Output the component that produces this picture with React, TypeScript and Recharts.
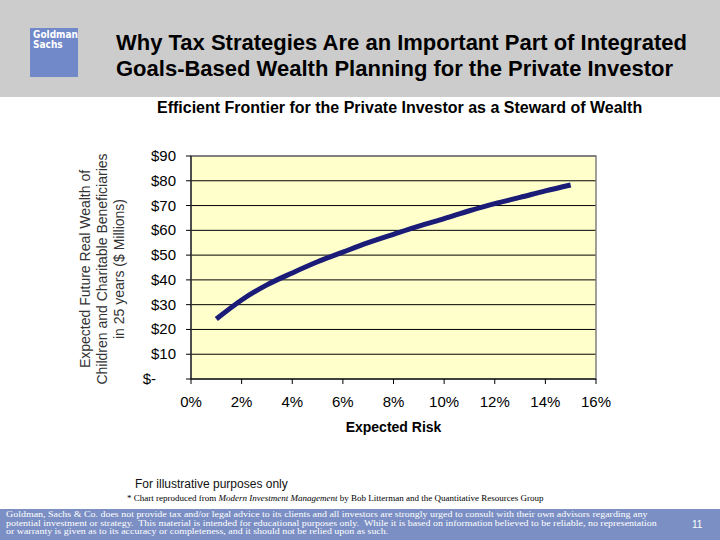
import {
  CartesianGrid,
  Line,
  LineChart,
  ReferenceArea,
  XAxis,
  YAxis,
} from "recharts";

const risk = [1, 2, 3, 4, 5, 6, 7, 8, 9, 10, 11, 12, 13, 14, 15];
const wealth = [24.2, 31.9, 38.0, 42.8, 47.3, 51.2, 55.0, 58.4, 61.7, 64.7, 67.9, 70.8, 73.3, 75.9, 78.3];
const xTicks = [0, 2, 4, 6, 8, 10, 12, 14, 16];
const yTicks = [0, 10, 20, 30, 40, 50, 60, 70, 80, 90];

const data = risk.map((r, i) => ({ risk: r, wealth: wealth[i] }));

const font = "'Liberation Sans', Arial, sans-serif";

// accounting style label: "$-" for zero sits further left, like Excel does it
function YTick(props: any) {
  const { x, y, payload } = props;
  const v = payload.value as number;
  const shift = v === 0 ? 20 : 0;
  return (
    <text
      x={x - 8 - shift}
      y={y}
      dy={5}
      textAnchor="end"
      fill="#000"
      fontSize={15}
      fontFamily={font}
    >
      {v === 0 ? "$-" : `$${v}`}
    </text>
  );
}

export default function App() {
  return (
    <div
      style={{
        position: "absolute",
        left: 0,
        top: 0,
        width: 720,
        height: 540,
        background: "#fff",
        fontFamily: font,
        overflow: "hidden",
      }}
    >
      {/* header */}
      <div style={{ position: "absolute", left: 0, top: 0, width: 720, height: 97, background: "#cccccc" }} />
      <div
        style={{
          position: "absolute",
          left: 30,
          top: 28,
          width: 48,
          height: 49,
          background: "#7189c9",
          color: "#fff",
          fontFamily: "'DejaVu Sans Condensed', 'Liberation Sans Narrow', sans-serif",
          fontWeight: "bold",
          fontSize: 10,
          lineHeight: "10px",
          padding: "2px 0 0 3px",
          boxSizing: "border-box",
        }}
      >
        Goldman
        <br />
        Sachs
      </div>
      <div
        style={{
          position: "absolute",
          left: 116,
          top: 30,
          fontSize: 22,
          fontWeight: "bold",
          lineHeight: "26px",
          color: "#000",
          whiteSpace: "nowrap",
        }}
      >
        Why Tax Strategies Are an Important Part of Integrated
        <br />
        Goals-Based Wealth Planning for the Private Investor
      </div>
      <div
        style={{
          position: "absolute",
          left: 157,
          top: 99,
          fontSize: 16,
          fontWeight: "bold",
          whiteSpace: "nowrap",
        }}
      >
        Efficient Frontier for the Private Investor as a Steward of Wealth
      </div>

      {/* rotated y-axis title */}
      <div
        style={{
          position: "absolute",
          left: 102,
          top: 269,
          width: 300,
          transform: "translate(-50%, -50%) rotate(-90deg)",
          textAlign: "center",
          fontSize: 14,
          lineHeight: "17px",
          color: "#333",
          whiteSpace: "nowrap",
        }}
      >
        Expected Future Real Wealth of
        <br />
        Children and Charitable Beneficiaries
        <br />
        in 25 years ($ Millions)
      </div>

      <div style={{ position: "absolute", left: 0, top: 0 }}>
        <LineChart
          width={720}
          height={540}
          data={data}
          margin={{ top: 156, right: 124, bottom: 131, left: 131 }}
        >
          <CartesianGrid vertical={false} stroke="#000" fill="#ffffcc" fillOpacity={1} />
          <ReferenceArea x1={0} x2={16} y1={0} y2={90} fill="none" stroke="#808080" strokeWidth={1.5} />
          <XAxis
            type="number"
            dataKey="risk"
            domain={[0, 16]}
            ticks={xTicks}
            interval={0}
            height={30}
            stroke="#000"
            tickSize={5}
            tick={{ fill: "#000", fontSize: 15, fontFamily: font, dy: 10 }}
            tickFormatter={(v: number) => `${v}%`}
            label={{
              value: "Expected Risk",
              position: "insideBottom",
              offset: -23,
              fill: "#000",
              fontSize: 14,
              fontWeight: "bold",
              fontFamily: font,
            }}
          />
          <YAxis
            type="number"
            domain={[0, 90]}
            ticks={yTicks}
            interval={0}
            width={60}
            stroke="#000"
            tickSize={5}
            tick={<YTick />}
          />
          <Line
            dataKey="wealth"
            type="monotone"
            stroke="#1b1b78"
            strokeWidth={5}
            dot={false}
            isAnimationActive={false}
          />
        </LineChart>
      </div>

      {/* notes */}
      <div style={{ position: "absolute", left: 135, top: 477, fontSize: 12, color: "#111" }}>
        For illustrative purposes only
      </div>
      <div
        style={{
          position: "absolute",
          left: 127,
          top: 493,
          fontSize: 9,
          fontFamily: "'Liberation Serif', serif",
          whiteSpace: "nowrap",
        }}
      >
        * Chart reproduced from <i>Modern Investment Management</i> by Bob Litterman and the Quantitative Resources Group
      </div>

      {/* footer band */}
      <div
        style={{
          position: "absolute",
          left: 0,
          top: 509,
          width: 720,
          height: 31,
          background: "#7b8fc4",
          color: "#fff",
        }}
      >
        <div
          style={{
            position: "absolute",
            left: 6,
            top: 1,
            fontFamily: "'Liberation Serif', serif",
            fontSize: 8.5,
            lineHeight: "8.5px",
            whiteSpace: "nowrap",
            transform: "scaleX(1.17)",
            transformOrigin: "left top",
          }}
        >
          Goldman, Sachs &amp; Co. does not provide tax and/or legal advice to its clients and all investors are strongly urged to consult with their own advisors regarding any
          <br />
          potential investment or strategy.&nbsp; This material is intended for educational purposes only.&nbsp; While it is based on information believed to be reliable, no representation
          <br />
          or warranty is given as to its accuracy or completeness, and it should not be relied upon as such.
        </div>
        <div style={{ position: "absolute", left: 692, top: 10, fontSize: 10 }}>11</div>
      </div>
    </div>
  );
}
